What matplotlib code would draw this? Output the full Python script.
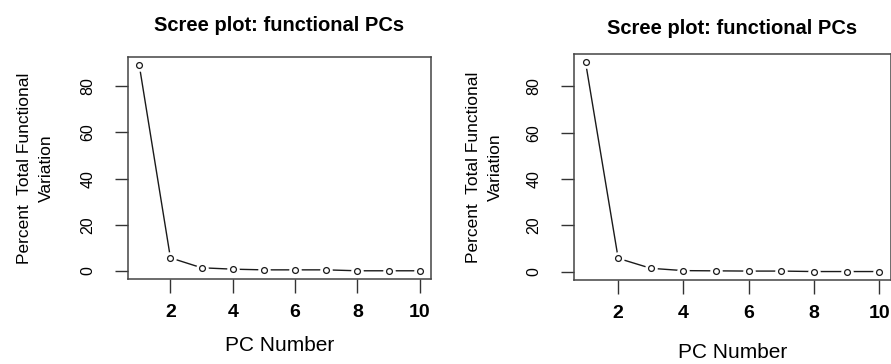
import matplotlib.pyplot as plt

# percent of total functional variation per PC
pc = [1, 2, 3, 4, 5, 6, 7, 8, 9, 10]
left_pct = [89.1, 5.7, 1.4, 0.8, 0.5, 0.5, 0.5, 0.1, 0.1, 0.1]
right_pct = [90.4, 5.8, 1.5, 0.5, 0.4, 0.3, 0.3, 0.1, 0.1, 0.1]
xticks = [2, 4, 6, 8, 10]
yticks = [0, 20, 40, 60, 80]

title = "Scree plot: functional PCs"
ylab = "Percent  Total Functional\nVariation"
xlab = "PC Number"

font = ['Liberation Sans', 'DejaVu Sans']

fig = plt.figure(figsize=(8.91, 3.64), dpi=100)
ax1 = fig.add_axes([0.1437, 0.2335, 0.340, 0.610])
ax2 = fig.add_axes([0.644, 0.231, 0.356, 0.621])


def scree(ax, vals, title_y, xlab_pad, ylab_pad):
    # R type="b": line with gaps around open circles
    ax.plot(pc, vals, color='#1a1a1a', lw=1.0, zorder=1)
    ax.plot(pc, vals, ls='none', marker='o', ms=8, mfc='white', mec='white', zorder=2)
    ax.plot(pc, vals, ls='none', marker='o', ms=4.2, mfc='white', mec='#1a1a1a', mew=0.9, zorder=3)
    lo, hi = min(vals), max(vals)
    pad = 0.04 * (hi - lo)
    ax.set_ylim(lo - pad, hi + pad)
    ax.set_xlim(1 - 0.36, 10 + 0.36)
    ax.set_xticks(xticks)
    ax.set_yticks(yticks)
    ax.set_xticklabels([str(t) for t in xticks], fontfamily=font, fontsize=14, fontweight='bold')
    ax.set_yticklabels([str(t) for t in yticks], fontfamily=font, fontsize=11.5,
                       rotation=90, va='center')
    ax.tick_params(axis='x', length=10, width=1, color='#333333', pad=8)
    ax.tick_params(axis='y', length=9.5, width=1, color='#333333', pad=14)
    for s in ax.spines.values():
        s.set_color('#444444')
        s.set_linewidth(1.1)
    ax.set_title(title, fontfamily=font, fontsize=14.5, fontweight='bold', y=title_y, pad=0)
    ax.set_xlabel(xlab, fontfamily=font, fontsize=15, labelpad=xlab_pad)
    ax.set_ylabel(ylab, fontfamily=font, fontsize=12.5, labelpad=ylab_pad, linespacing=1.55)


scree(ax1, left_pct, 1.115, 11, 19)
scree(ax2, right_pct, 1.088, 15, 17)

fig.savefig('out.png', dpi=100)
